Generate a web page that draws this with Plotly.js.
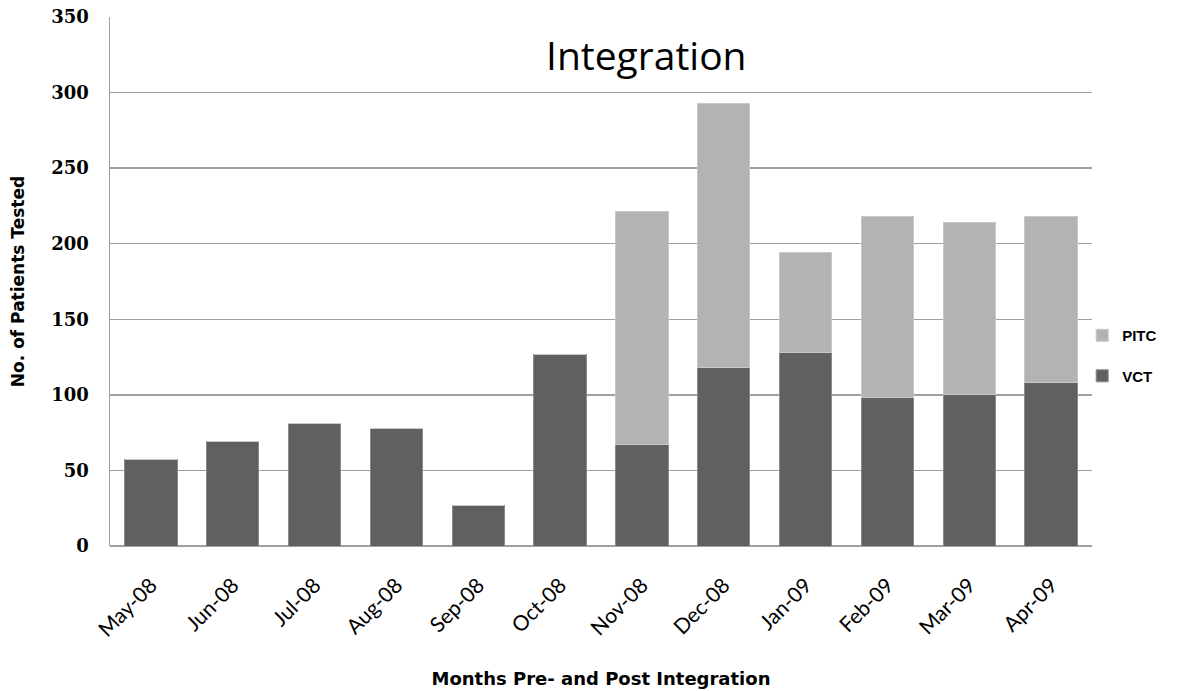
<!DOCTYPE html>
<html>
<head>
<meta charset="utf-8">
<script src="https://cdn.plot.ly/plotly-3.0.1.min.js"></script>
<style>html,body{margin:0;padding:0;background:#fff;}#chart{width:1200px;height:691px;}</style>
</head>
<body>
<div id="chart"></div>
<script>
const months = ["May-08","Jun-08","Jul-08","Aug-08","Sep-08","Oct-08","Nov-08","Dec-08","Jan-09","Feb-09","Mar-09","Apr-09"];
const vct = [57, 69, 81, 78, 27, 127, 67, 118, 128, 98, 100, 108];
const pitc = [0, 0, 0, 0, 0, 0, 154, 175, 66, 120, 114, 110];
const yTicks = [0, 50, 100, 150, 200, 250, 300, 350];

const traces = [
  {type:'bar', name:'VCT', x:months, y:vct, legendgroup:'v', legendrank:2,
   marker:{color:'#606060', line:{color:'#8a8a8a', width:1}}},
  {type:'bar', name:'PITC', x:months, y:pitc, legendgroup:'p', legendrank:1,
   marker:{color:'#b3b3b3', line:{color:'#c8c8c8', width:1}}}
];

const layout = {
  width:1200, height:691,
  margin:{l:110, r:108, t:17, b:145, autoexpand:false},
  paper_bgcolor:'#fff', plot_bgcolor:'#fff',
  barmode:'stack', bargap:0.36,
  showlegend:true,
  legend:{traceorder:'grouped', tracegroupgap:18, xref:'paper', yref:'paper', x:0.99, xanchor:'left', y:0.36, yanchor:'middle',
          bgcolor:'rgba(0,0,0,0)',
          font:{family:'Liberation Sans, Arial, sans-serif', size:15, color:'#000', weight:'bold'}},
  xaxis:{
    type:'category', tickangle:-45, showgrid:false, showline:false, zeroline:false,
    ticklabelstandoff:22,
    tickfont:{family:'Lato, Liberation Sans, sans-serif', size:21, color:'#000'},
    title:{text:'<b>Months Pre- and Post Integration</b>', standoff:32,
           font:{family:'DejaVu Sans, sans-serif', size:18, color:'#000'}}
  },
  yaxis:{
    range:[0,350], tickvals:yTicks, showgrid:true, gridcolor:'#a0a0a0', gridwidth:1.5,
    showline:true, linecolor:'#a0a0a0', linewidth:1.5, zeroline:true, zerolinecolor:'#a0a0a0', zerolinewidth:1.5,
    ticklabelstandoff:16,
    tickfont:{family:'DejaVu Serif, serif', size:18, color:'#000', weight:'bold'},
    title:{text:'<b>No. of Patients Tested</b>', standoff:22,
           font:{family:'DejaVu Sans, sans-serif', size:17, color:'#000'}}
  },
  annotations:[{text:'Integration', xref:'paper', yref:'paper', x:0.546, y:0.93, yanchor:'middle', xanchor:'center', showarrow:false,
    font:{family:'Open Sans, Lato, sans-serif', size:39, color:'#000'}}]
};

Plotly.newPlot('chart', traces, layout, {displayModeBar:false, staticPlot:true});
</script>
</body>
</html>
